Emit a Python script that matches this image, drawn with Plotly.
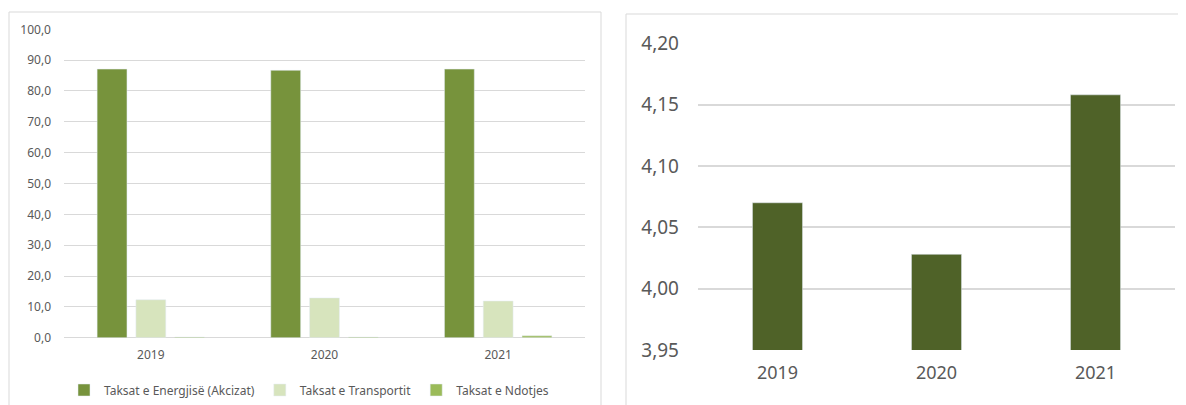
import plotly.graph_objects as go

# page body has an 8px margin, so the figure is sized to fill the rest
OFF = 8
W, H = 1186 - OFF, 405 - OFF

years = ["2019", "2020", "2021"]
energji = [87.1, 86.7, 87.1]
transport = [12.3, 12.9, 11.9]
ndotje = [0.2, 0.2, 0.6]
totali = [4.07, 4.028, 4.158]

left_ticks = [0, 10, 20, 30, 40, 50, 60, 70, 80, 90, 100]
left_labels = ["0,0", "10,0", "20,0", "30,0", "40,0", "50,0", "60,0", "70,0", "80,0", "90,0", "100,0"]
right_ticks = [3.95, 4.00, 4.05, 4.10, 4.15, 4.20]
right_labels = ["3,95", "4,00", "4,05", "4,10", "4,15", "4,20"]

FONT = "Noto Sans"
TXT = "#595959"
GRID = "#d9d9d9"


def px(x):
    return (x - OFF) / W


def py(y):
    return (H - (y - OFF)) / H


fig = go.Figure()

fig.add_bar(x=years, y=energji, name="Taksat e Energjisë (Akcizat)",
            marker_color="#77933c", xaxis="x", yaxis="y")
fig.add_bar(x=years, y=transport, name="Taksat e Transportit",
            marker_color="#d7e4bd", xaxis="x", yaxis="y")
fig.add_bar(x=years, y=ndotje, name="Taksat e Ndotjes",
            marker_color="#9bbb59", xaxis="x", yaxis="y")

fig.add_bar(x=years, y=totali, marker_color="#4f6228", showlegend=False,
            xaxis="x2", yaxis="y2", width=0.315)

fig.update_layout(
    width=W, height=H,
    margin=dict(l=0, r=0, t=0, b=0, autoexpand=False),
    paper_bgcolor="white", plot_bgcolor="white",
    font=dict(family=FONT, color=TXT, size=12),
    barmode="group", bargap=0.33, bargroupgap=0.23,
    xaxis=dict(domain=[px(64), px(585)], showgrid=False, showline=False,
               automargin=False,
               tickfont=dict(size=12, color=TXT), ticklabelstandoff=8),
    yaxis=dict(domain=[py(337.7), py(29.3)], range=[0, 100],
               automargin=False,
               tickvals=left_ticks, ticktext=left_labels,
               gridcolor=GRID, gridwidth=1, zeroline=True, zerolinecolor=GRID,
               zerolinewidth=1, tickfont=dict(size=12, color=TXT),
               ticklabelstandoff=12),
    xaxis2=dict(domain=[px(698), px(1175)], anchor="y2", showgrid=False,
                automargin=False,
                showline=False, tickfont=dict(size=18, color=TXT),
                ticklabelstandoff=10),
    yaxis2=dict(domain=[py(350), py(43.3)], range=[3.95, 4.20], anchor="x2",
                automargin=False,
                tickvals=right_ticks, ticktext=right_labels,
                gridcolor=GRID, gridwidth=2, zeroline=False,
                tickfont=dict(size=19, color=TXT), ticklabelstandoff=18),
    legend=dict(orientation="h", x=px(309), xanchor="center", y=py(390),
                yanchor="middle", font=dict(size=12, color=TXT),
                itemwidth=30, tracegroupgap=0),
    shapes=[
        dict(type="rect", xref="paper", yref="paper",
             x0=px(9), x1=px(601), y0=-0.05, y1=py(12),
             line=dict(color="#d9d9d9", width=1)),
        dict(type="rect", xref="paper", yref="paper",
             x0=px(626), x1=1.05, y0=-0.05, y1=py(14),
             line=dict(color="#d9d9d9", width=1)),
    ],
)

fig.write_html("out.html")
